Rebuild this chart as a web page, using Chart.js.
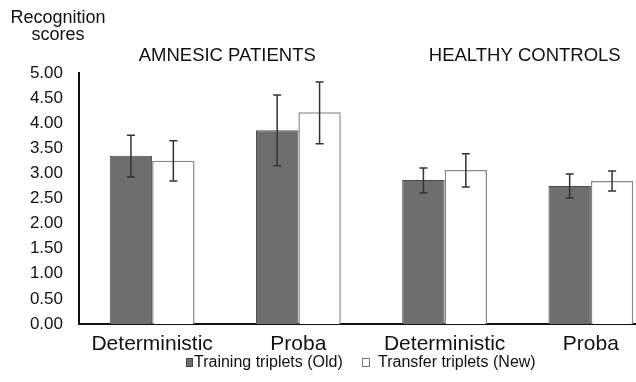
<!DOCTYPE html>
<html>
<head>
<meta charset="utf-8">
<script src="https://cdn.jsdelivr.net/npm/chart.js@4/dist/chart.umd.min.js"></script>
<style>
  html, body { margin: 0; padding: 0; background: #fff; overflow: hidden; }
  #wrap { width: 664px; height: 382px; }
</style>
</head>
<body>
<div id="wrap"><canvas id="chart"></canvas></div>
<script>
// dados
const categories = ['Deterministic', 'Proba', 'Deterministic', 'Proba'];
const groupTitles = ['AMNESIC PATIENTS', 'HEALTHY CONTROLS'];
const oldScores = [3.35, 3.86, 2.87, 2.75];
const oldLow = [2.93, 3.15, 2.61, 2.51];
const oldHigh = [3.76, 4.56, 3.11, 2.99];
const newScores = [3.25, 4.22, 3.07, 2.85];
const newLow = [2.85, 3.59, 2.73, 2.65];
const newHigh = [3.65, 4.82, 3.39, 3.05];
const yTicks = [0, 0.5, 1, 1.5, 2, 2.5, 3, 3.5, 4, 4.5, 5];
const seriesNames = ['Training triplets (Old)', 'Transfer triplets (New)'];

const FONT = '"Liberation Sans", Arial, sans-serif';

// barras de erro + textos extras
const extras = {
    id: 'extras',
    afterDatasetsDraw(chart) {
        const ctx = chart.ctx;
        const y = chart.scales.y;
        const bounds = [[oldLow, oldHigh], [newLow, newHigh]];
        ctx.save();
        ctx.strokeStyle = '#333';
        ctx.lineWidth = 1.5;
        chart.data.datasets.forEach((ds, di) => {
            const meta = chart.getDatasetMeta(di);
            meta.data.forEach((bar, i) => {
                const yl = y.getPixelForValue(bounds[di][0][i]);
                const yh = y.getPixelForValue(bounds[di][1][i]);
                ctx.beginPath();
                ctx.moveTo(bar.x, yl); ctx.lineTo(bar.x, yh);
                ctx.moveTo(bar.x - 4, yl); ctx.lineTo(bar.x + 4, yl);
                ctx.moveTo(bar.x - 4, yh); ctx.lineTo(bar.x + 4, yh);
                ctx.stroke();
            });
        });
        ctx.restore();
    },
    afterDraw(chart) {
        const ctx = chart.ctx;
        const x = chart.scales.x;
        ctx.save();
        ctx.fillStyle = '#111';
        ctx.textAlign = 'center';
        ctx.textBaseline = 'alphabetic';
        ctx.font = '18px ' + FONT;
        ctx.fillText('Recognition', 58, 23);
        ctx.fillText('scores', 58, 40);
        // títulos dos grupos
        ctx.font = '18.5px ' + FONT;
        ctx.fillText(groupTitles[0], (x.getPixelForValue(0) + x.getPixelForValue(1)) / 2 + 2, 61);
        ctx.fillText(groupTitles[1], (x.getPixelForValue(2) + x.getPixelForValue(3)) / 2 + 7, 61);
        // legenda
        ctx.font = '16px ' + FONT;
        ctx.textAlign = 'left';
        ctx.textBaseline = 'middle';
        const ly = 363;
        ctx.fillStyle = '#6e6e6e';
        ctx.fillRect(186, ly - 5, 7, 9);
        ctx.strokeStyle = '#444';
        ctx.lineWidth = 1;
        ctx.strokeRect(186.5, ly - 4.5, 6, 8);
        ctx.fillStyle = '#111';
        ctx.fillText(seriesNames[0], 194, ly);
        ctx.strokeStyle = '#777';
        ctx.strokeRect(362.5, ly - 4.5, 7, 8);
        ctx.fillText(seriesNames[1], 378, ly);
        ctx.restore();
    }
};

const ctx = document.getElementById('chart').getContext('2d');
new Chart(ctx, {
    type: 'bar',
    data: {
        labels: categories,
        datasets: [
            { label: seriesNames[0], data: oldScores, backgroundColor: '#6e6e6e', borderColor: '#4a4a4a', borderWidth: 1 },
            { label: seriesNames[1], data: newScores, backgroundColor: '#ffffff', borderColor: '#8a8a8a', borderWidth: 1.5 }
        ]
    },
    options: {
        responsive: true, maintainAspectRatio: false, animation: false,
        layout: { padding: { top: 73, left: 0, right: 0, bottom: 0 } },
        plugins: { legend: { display: false }, tooltip: { enabled: false } },
        datasets: { bar: { barPercentage: 1, categoryPercentage: 0.58 } },
        scales: {
            x: {
                grid: { display: false },
                border: { display: true, color: '#111', width: 2 },
                ticks: { color: '#111', padding: 0, font: { family: FONT, size: 21 } },
                afterFit: (s) => { s.height = 58; }
            },
            y: {
                min: 0, max: 5,
                grid: { display: false, drawTicks: false },
                border: { display: true, color: '#111', width: 2 },
                afterBuildTicks: (s) => { s.ticks = yTicks.map(v => ({ value: v })); },
                ticks: {
                    color: '#111', padding: 16,
                    font: { family: FONT, size: 17 },
                    callback: (v) => Number(v).toFixed(2)
                },
                afterFit: (s) => { s.width = 79; }
            }
        }
    },
    plugins: [extras]
});
</script>
</body>
</html>
